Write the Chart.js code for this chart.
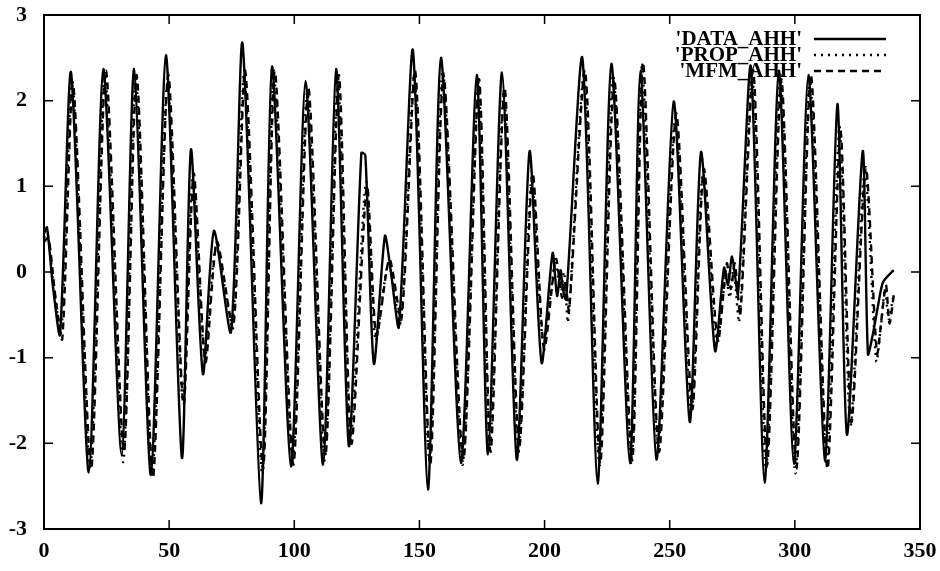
<!DOCTYPE html>
<html><head><meta charset="utf-8">
<script src="https://cdn.jsdelivr.net/npm/chart.js@4/dist/chart.umd.min.js"></script>
<style>html,body{margin:0;padding:0;background:#fff;}canvas{display:block;}</style>
</head><body>
<canvas id="c" width="940" height="571"></canvas>
<script>
const seriesNames = ["'DATA_AHH'", "'PROP_AHH'", "'MFM_AHH'"];
const xTicks = [0, 50, 100, 150, 200, 250, 300, 350];
const yTicks = [-3, -2, -1, 0, 1, 2, 3];

const dataX = [0, 1.2, 3.5, 6.4, 10.8, 17.9, 23.7, 31.0, 36.0, 42.7, 48.7, 55.1, 58.7, 63.5, 67.9, 74.7, 79.3, 86.7, 91.1, 98.7, 104.5, 111.5, 116.7, 121.8, 126.8, 128.4, 131.8, 136.2, 138.6, 141.8, 147.4, 153.4, 158.6, 166.6, 172.9, 177.4, 183.0, 188.9, 194.0, 198.8, 203.2, 205.0, 206.4, 207.3, 208.6, 215.1, 221.2, 226.7, 234.1, 238.3, 244.7, 251.6, 258.0, 262.5, 268.1, 271.7, 273.3, 274.9, 277.3, 282.4, 287.9, 293.6, 299.6, 305.4, 312.0, 317.0, 320.8, 327.1, 329.2, 331.2, 333.2, 335.2, 338.7, 339.5];
const dataY = [0.45, 0.52, -0.15, -0.73, 2.33, -2.34, 2.37, -2.13, 2.37, -2.37, 2.53, -2.17, 1.43, -1.19, 0.48, -0.7, 2.67, -2.7, 2.4, -2.27, 2.23, -2.25, 2.37, -2.03, 1.39, 1.36, -1.07, 0.42, 0.0, -0.64, 2.59, -2.54, 2.5, -2.23, 2.3, -2.13, 2.33, -2.19, 1.41, -1.06, 0.22, -0.28, 0.02, -0.2, -0.32, 2.5, -2.47, 2.43, -2.23, 2.35, -2.19, 1.99, -1.75, 1.4, -0.92, 0.05, -0.15, 0.18, -0.25, 2.4, -2.46, 2.35, -2.24, 2.3, -2.2, 1.96, -1.9, 1.41, -0.96, -0.72, -0.4, -0.12, 0.0, 0.02];

const propX = [0, 1.5, 4.0, 6.9, 11.3, 18.4, 24.3, 31.6, 36.6, 43.2, 49.3, 55.4, 59.4, 64.2, 68.7, 75.3, 80.0, 87.2, 91.8, 99.3, 105.2, 112.1, 117.4, 122.4, 128.6, 132.5, 137.6, 142.4, 148.0, 154.0, 159.3, 167.2, 173.5, 178.1, 183.7, 189.5, 194.8, 199.5, 204.2, 206.5, 207.8, 209.4, 215.8, 221.8, 227.4, 234.7, 238.9, 245.3, 252.2, 258.6, 263.2, 268.8, 272.4, 274.0, 275.5, 277.8, 283.0, 288.5, 294.2, 300.2, 306.0, 312.6, 317.8, 322.2, 327.9, 332.5, 334.5, 336.0, 337.5, 339.2];
const propY = [0.4, 0.45, -0.2, -0.7, 2.25, -2.3, 2.3, -2.22, 2.3, -2.35, 2.2, -1.5, 1.1, -1.0, 0.3, -0.6, 2.3, -2.35, 2.3, -2.2, 2.1, -2.2, 2.25, -1.95, 1.05, -0.8, 0.1, -0.6, 2.3, -2.2, 2.35, -2.25, 2.2, -2.05, 2.1, -2.1, 1.1, -0.85, 0.1, -0.2, 0.0, -0.58, 2.3, -2.2, 2.3, -2.25, 2.4, -2.05, 1.8, -1.65, 1.15, -0.85, -0.05, -0.3, 0.05, -0.58, 2.3, -2.3, 2.3, -2.35, 2.25, -2.25, 1.7, -1.8, 1.2, -1.04, -0.6, -0.2, -0.55, -0.3];

const mfmX = [0, 1.8, 4.4, 7.3, 11.6, 18.8, 24.7, 31.9, 37.0, 43.5, 49.6, 55.7, 59.8, 64.5, 69.1, 75.6, 80.4, 87.5, 92.2, 99.6, 105.6, 112.4, 117.8, 122.8, 129.0, 132.8, 138.0, 142.8, 148.3, 154.3, 159.6, 167.5, 173.8, 178.4, 184.0, 189.8, 195.2, 199.8, 204.5, 207.0, 208.2, 209.8, 216.2, 222.2, 227.8, 235.0, 239.3, 245.7, 252.6, 259.0, 263.6, 269.2, 272.8, 274.4, 276.0, 278.2, 283.4, 288.9, 294.6, 300.6, 306.4, 313.0, 318.2, 322.6, 328.3, 332.8, 334.8, 336.4, 337.8, 339.6];
const mfmY = [0.35, 0.4, -0.25, -0.78, 2.2, -2.3, 2.35, -2.1, 2.3, -2.4, 2.3, -1.55, 1.15, -1.05, 0.35, -0.65, 2.35, -2.3, 2.35, -2.25, 2.15, -2.15, 2.3, -2.0, 1.0, -0.75, 0.15, -0.55, 2.35, -2.25, 2.3, -2.2, 2.25, -2.1, 2.15, -2.05, 1.15, -0.9, 0.15, -0.3, -0.1, -0.45, 2.35, -2.25, 2.25, -2.2, 2.45, -2.1, 1.85, -1.6, 1.2, -0.8, 0.1, -0.2, 0.1, -0.5, 2.35, -2.25, 2.25, -2.3, 2.3, -2.3, 1.65, -1.75, 1.22, -0.95, -0.5, -0.15, -0.6, -0.25];

function pts(xs, ys) { return xs.map((x, i) => ({ x: x, y: ys[i] })); }

const FONT = "'Liberation Serif', 'Times New Roman', serif";

const framePlugin = {
  id: 'frame',
  afterDatasetsDraw(chart) {
    const { ctx, chartArea: a, scales } = chart;
    const sx = scales.x, sy = scales.y;
    ctx.save();
    ctx.strokeStyle = '#000';
    ctx.lineWidth = 2;
    ctx.strokeRect(a.left, a.top, a.right - a.left, a.bottom - a.top);
    ctx.lineWidth = 1.5;
    ctx.beginPath();
    xTicks.forEach(v => {
      const p = sx.getPixelForValue(v);
      ctx.moveTo(p, a.bottom); ctx.lineTo(p, a.bottom - 9);
      ctx.moveTo(p, a.top); ctx.lineTo(p, a.top + 9);
    });
    yTicks.forEach(v => {
      const p = sy.getPixelForValue(v);
      ctx.moveTo(a.left, p); ctx.lineTo(a.left + 9, p);
      ctx.moveTo(a.right, p); ctx.lineTo(a.right - 9, p);
    });
    ctx.stroke();
    ctx.restore();
  }
};

const legendPlugin = {
  id: 'keyLegend',
  afterDraw(chart) {
    const ctx = chart.ctx;
    ctx.save();
    ctx.font = "bold 21px " + FONT;
    ctx.fillStyle = '#000';
    ctx.textAlign = 'right';
    ctx.textBaseline = 'middle';
    chart.data.datasets.forEach((ds, i) => {
      const yy = 39 + i * 16;
      ctx.fillText(ds.label, 802, yy + 1);
      ctx.beginPath();
      ctx.setLineDash(ds.borderDash || []);
      ctx.lineWidth = ds.borderWidth;
      ctx.strokeStyle = '#000';
      ctx.moveTo(814, yy); ctx.lineTo(886, yy);
      ctx.stroke();
    });
    ctx.restore();
  }
};

new Chart(document.getElementById('c'), {
  type: 'scatter',
  data: {
    datasets: [
      { label: seriesNames[0], data: pts(dataX, dataY), showLine: true, borderColor: '#000', borderWidth: 2.4, pointRadius: 0, tension: 0.25, borderDash: [] },
      { label: seriesNames[1], data: pts(propX, propY), showLine: true, borderColor: '#000', borderWidth: 2.4, pointRadius: 0, tension: 0.25, borderDash: [2, 5] },
      { label: seriesNames[2], data: pts(mfmX, mfmY), showLine: true, borderColor: '#000', borderWidth: 2.4, pointRadius: 0, tension: 0.25, borderDash: [7, 5] }
    ]
  },
  options: {
    responsive: false,
    animation: false,
    devicePixelRatio: 1,
    layout: { padding: { top: 15, right: 20, left: 0, bottom: 0 } },
    plugins: { legend: { display: false }, tooltip: { enabled: false } },
    scales: {
      x: {
        type: 'linear', min: 0, max: 350,
        afterBuildTicks(s) { s.ticks = xTicks.map(v => ({ value: v })); },
        afterFit(s) { s.height = 42; s.paddingLeft = 0; s.paddingRight = 0; },
        grid: { display: false, drawTicks: false },
        border: { display: false },
        ticks: { color: '#000', padding: 9, font: { family: FONT, size: 22, weight: 'bold' }, maxRotation: 0 }
      },
      y: {
        type: 'linear', min: -3, max: 3,
        afterBuildTicks(s) { s.ticks = yTicks.map(v => ({ value: v })); },
        afterFit(s) { s.width = 44; s.paddingTop = 0; s.paddingBottom = 0; },
        grid: { display: false, drawTicks: false },
        border: { display: false },
        ticks: { color: '#000', padding: 17, font: { family: FONT, size: 22, weight: 'bold' } }
      }
    }
  },
  plugins: [framePlugin, legendPlugin]
});
</script>
</body></html>
